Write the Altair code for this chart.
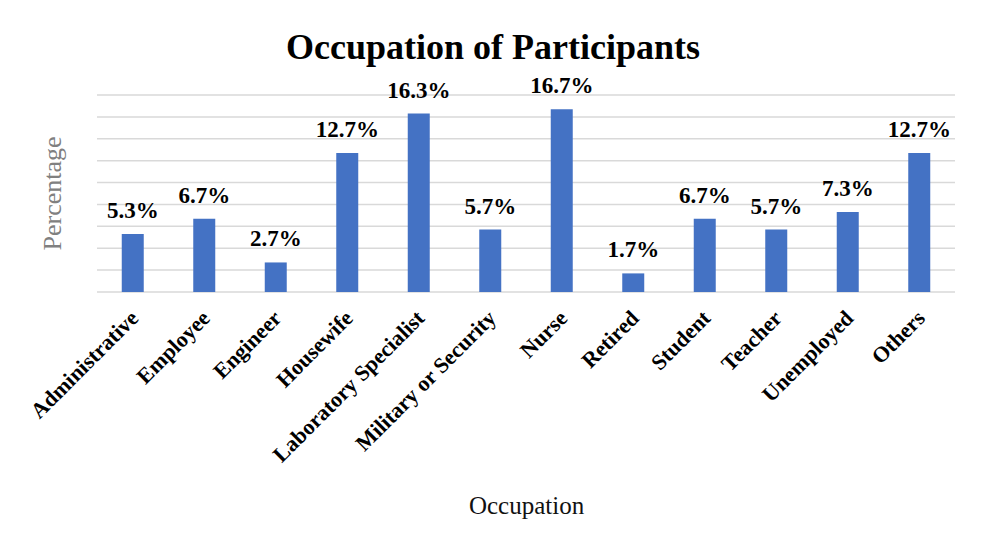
import altair as alt
import pandas as pd

categories = ["Administrative", "Employee", "Engineer", "Housewife", "Laboratory Specialist",
              "Military or Security", "Nurse", "Retired", "Student", "Teacher", "Unemployed", "Others"]
values = [5.3, 6.7, 2.7, 12.7, 16.3, 5.7, 16.7, 1.7, 6.7, 5.7, 7.3, 12.7]
labels = [f"{v}%" for v in values]
grid_values = [0, 2, 4, 6, 8, 10, 12, 14, 16, 18]

df = pd.DataFrame({"Occupation": categories, "Percentage": values, "Label": labels})
grid_df = pd.DataFrame({"g": grid_values})

FONT = "Liberation Serif"

x = alt.X("Occupation:N", sort=categories,
          scale=alt.Scale(paddingInner=0.69, paddingOuter=0.345),
          axis=alt.Axis(title="Occupation", labelAngle=-45, labelFont=FONT, labelFontSize=22,
                        labelFontWeight="bold", labelColor="black", ticks=False, domain=False,
                        labelLimit=0, labelPadding=15, labelOffset=-5, titleFont=FONT, titleFontSize=25,
                        titleFontWeight="normal", titleColor="#111111", titleY=213,
                        titleBaseline="middle", labelOverlap=False))
y = alt.Y("Percentage:Q", scale=alt.Scale(domain=[0, 18]),
          axis=alt.Axis(title="Percentage", labels=False, ticks=False, grid=False,
                        domain=False, titleFont=FONT,
                        titleFontSize=26, titleFontWeight="normal", titleColor="#808080",
                        titleX=-45, titleY=98, titleBaseline="middle"))

grid = alt.Chart(grid_df).mark_rule(color="#d9d9d9", strokeWidth=1.5).encode(
    y=alt.Y("g:Q", scale=alt.Scale(domain=[0, 18])))
bars = alt.Chart(df).mark_bar(color="#4472C4", size=22).encode(x=x, y=y)
text = alt.Chart(df).mark_text(font=FONT, fontSize=23, fontWeight="bold", color="black",
                               baseline="alphabetic", dy=-16).encode(
    x=x, y=y, text="Label:N")

chart = alt.layer(grid, bars, text).properties(
    width=858, height=197,
    background="white",
    autosize=alt.AutoSizeParams(type="none"),
    padding={"left": 89, "top": 87, "right": 23, "bottom": 245},
    title=alt.TitleParams("Occupation of Participants", font=FONT, fontSize=36, fontWeight="bold",
                          color="black", anchor="middle", dx=-33, offset=8),
).configure_view(stroke=None)

chart.save("out.html", embed_options={"renderer": "svg", "actions": False})
